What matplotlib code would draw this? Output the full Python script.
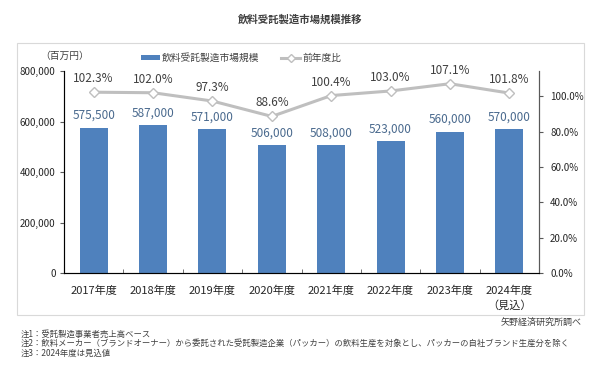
"""飲料受託製造市場規模推移: bars (market size) + line (YoY ratio) on twin axes."""
import matplotlib
matplotlib.use("Agg")
import matplotlib.pyplot as plt
from matplotlib.patches import Patch, Rectangle
from matplotlib.lines import Line2D

plt.rcParams["font.family"] = ["Noto Sans CJK JP", "DejaVu Sans"]
plt.rcParams["axes.unicode_minus"] = False

years = ["2017年度", "2018年度", "2019年度", "2020年度", "2021年度", "2022年度", "2023年度", "2024年度\n（見込）"]
market = [575500, 587000, 571000, 506000, 508000, 523000, 560000, 570000]
yoy = [102.3, 102.0, 97.3, 88.6, 100.4, 103.0, 107.1, 101.8]
left_ticks = [0, 200000, 400000, 600000, 800000]
right_ticks = [0, 20, 40, 60, 80, 100]
notes = ["注1：受託製造事業者売上高ベース",
         "注2：飲料メーカー（ブランドオーナー）から委託された受託製造企業（パッカー）の飲料生産を対象とし、パッカーの自社ブランド生産分を除く",
         "注3：2024年度は見込値"]

BLUE, GRAY, INK, LBL, AX = "#4F81BD", "#BFBFBF", "#404040", "#4A6A8E", "#595959"
W, H = 600, 388

fig = plt.figure(figsize=(6, 3.88), dpi=100)
fig.patch.set_facecolor("white")

# outer chart frame
fig.patches.append(Rectangle((17 / W, 1 - 315 / H), 567 / W, 272 / H, transform=fig.transFigure,
                             fill=False, edgecolor="#D9D9D9", lw=0.8))
fig.text(0.5, 1 - 20 / H, "飲料受託製造市場規模推移", ha="center", va="center",
         fontsize=7.5, fontweight="bold", color=INK)

ax = fig.add_axes([64 / W, 1 - 273 / H, 475 / W, 202 / H])
x = list(range(len(years)))
bars = ax.bar(x, market, width=0.47, color=BLUE, zorder=2)
for xi, v in zip(x, market):
    ax.annotate(f"{v:,}", (xi, v), xytext=(0, 4), textcoords="offset points",
                ha="center", va="bottom", fontsize=8.5, color=LBL)
ax.set_xlim(-0.5, len(years) - 0.5)
ax.set_ylim(0, 800000)
ax.set_yticks(left_ticks)
ax.set_yticklabels([f"{t:,}" for t in left_ticks])
ax.set_xticks(x)
ax.set_xticklabels(years, fontsize=8, color="#262626", linespacing=1.5)
ax.set_xticks([i + 0.5 for i in x[:-1]], minor=True)
ax.tick_params(axis="x", which="major", length=0, pad=9)
ax.tick_params(axis="x", which="minor", length=3, direction="in", color=AX)
ax.tick_params(axis="y", length=3, labelsize=7, colors="#262626", color=AX, pad=3)
ax.spines["top"].set_visible(False)
for s in ("left", "bottom", "right"):
    ax.spines[s].set_color(AX)
    ax.spines[s].set_linewidth(0.8)

ax2 = ax.twinx()
ax2.plot(x, yoy, color=GRAY, lw=2.2, marker="D", ms=5, mfc="white", mec=GRAY, mew=1.0, zorder=3)
for xi, v in zip(x, yoy):
    ax2.annotate(f"{v:.1f}%", (xi, v), xytext=(0, 5), textcoords="offset points",
                 ha="center", va="bottom", fontsize=8.5, color=INK)
ax2.set_ylim(0, 114.3)
ax2.set_yticks(right_ticks)
ax2.set_yticklabels([f"{t:.1f}%" for t in right_ticks])
ax2.tick_params(axis="y", length=3, labelsize=7, colors="#262626", color=AX, pad=5)
ax2.spines["top"].set_visible(False)
ax2.spines["right"].set_color(AX)
ax2.spines["right"].set_linewidth(0.8)

fig.text(65 / W, 1 - 56 / H, "（百万円）", ha="center", va="center", fontsize=7, color=INK)
handles = [Patch(facecolor=BLUE, label="飲料受託製造市場規模"),
           Line2D([], [], color=GRAY, lw=2.2, marker="D", ms=4, mfc="white", mec=GRAY, label="前年度比")]
fig.legend(handles=handles, loc="center", bbox_to_anchor=(241 / W, 1 - 58 / H), ncol=2, frameon=False,
           fontsize=7, handlelength=2.0, handleheight=0.5, handletextpad=0.2, columnspacing=2.2,
           labelcolor=INK)

fig.text(582 / W, 1 - 322 / H, "矢野経済研究所調べ", ha="right", va="center", fontsize=6.5, color=INK)
for i, n in enumerate(notes):
    fig.text(21 / W, 1 - (334 + 9.5 * i) / H, n, ha="left", va="center", fontsize=6, color=INK)

fig.savefig("out.png", dpi=100, facecolor="white")
